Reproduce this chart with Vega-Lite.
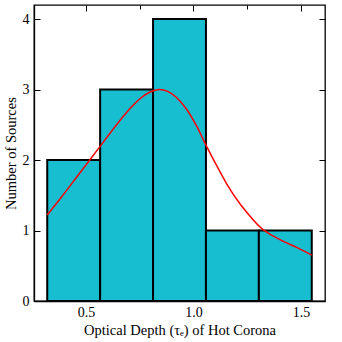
{
  "$schema": "https://vega.github.io/schema/vega-lite/v6.json",
  "width": 291,
  "height": 296,
  "autosize": "none",
  "padding": {"left": 34, "top": 5, "right": 17, "bottom": 41},
  "background": "white",
  "config": {
    "view": {"stroke": "black", "strokeWidth": 1.3},
    "font": "Liberation Serif",
    "axis": {
      "grid": false,
      "domainColor": "black",
      "domainWidth": 1.3,
      "tickColor": "black",
      "tickWidth": 1,
      "labelFont": "Liberation Serif",
      "titleFont": "Liberation Serif",
      "labelFontSize": 14,
      "titleFontSize": 14.5,
      "titleFontWeight": "normal",
      "labelColor": "black",
      "titleColor": "black"
    }
  },
  "datasets": {
    "bins": [
      {"x0": 0.32, "x1": 0.566, "count": 2},
      {"x0": 0.566, "x1": 0.812, "count": 3},
      {"x0": 0.812, "x1": 1.058, "count": 4},
      {"x0": 1.058, "x1": 1.304, "count": 1},
      {"x0": 1.304, "x1": 1.55, "count": 1}
    ],
    "kde": [
      {"x": 0.32, "y": 1.22},
      {"x": 0.38, "y": 1.45},
      {"x": 0.44, "y": 1.69},
      {"x": 0.5, "y": 1.93},
      {"x": 0.565, "y": 2.19},
      {"x": 0.612, "y": 2.38},
      {"x": 0.658, "y": 2.56},
      {"x": 0.705, "y": 2.73},
      {"x": 0.751, "y": 2.87},
      {"x": 0.798, "y": 2.965},
      {"x": 0.84, "y": 3.0},
      {"x": 0.88, "y": 2.975},
      {"x": 0.92, "y": 2.89},
      {"x": 0.968, "y": 2.72},
      {"x": 1.015, "y": 2.48},
      {"x": 1.057, "y": 2.22},
      {"x": 1.108, "y": 1.92},
      {"x": 1.155, "y": 1.66},
      {"x": 1.216, "y": 1.38},
      {"x": 1.278, "y": 1.15},
      {"x": 1.325, "y": 1.01},
      {"x": 1.402, "y": 0.87},
      {"x": 1.48, "y": 0.76},
      {"x": 1.55, "y": 0.65}
    ]
  },
  "layer": [
    {
      "data": {"name": "bins"},
      "mark": {"type": "bar", "fill": "#17becf", "stroke": "black", "strokeWidth": 2},
      "encoding": {
        "x": {
          "field": "x0", "type": "quantitative",
          "scale": {"domain": [0.2585, 1.6115], "nice": false, "zero": false},
          "axis": {
            "orient": "bottom",
            "title": "Optical Depth (τₑ) of Hot Corona",
            "values": [0.5, 0.75, 1.0, 1.25, 1.5],
            "labelExpr": "datum.value == 0.75 || datum.value == 1.25 ? '' : format(datum.value, '.1f')",
            "tickSize": {"condition": {"test": "datum.value == 0.75 || datum.value == 1.25", "value": -4}, "value": -6},
            "labelPadding": 10,
            "titlePadding": 4
          }
        },
        "x2": {"field": "x1"},
        "y": {
          "field": "count", "type": "quantitative",
          "scale": {"domain": [0, 4.2], "nice": false, "padding": 0},
          "axis": {
            "orient": "left",
            "title": "Number of Sources",
            "values": [0, 1, 2, 3, 4],
            "tickSize": -6,
            "labelPadding": 11,
            "titlePadding": 4
          }
        },
        "y2": {"datum": 0}
      }
    },
    {
      "data": {"name": "kde"},
      "mark": {"type": "line", "color": "red", "strokeWidth": 1.5, "interpolate": "natural"},
      "encoding": {
        "x": {
          "field": "x", "type": "quantitative",
          "scale": {"domain": [0.2585, 1.6115], "nice": false, "zero": false},
          "axis": {
            "orient": "top",
            "title": null,
            "labels": false,
            "domain": false,
            "values": [0.5, 0.75, 1.0, 1.25, 1.5],
            "tickSize": {"condition": {"test": "datum.value == 0.75 || datum.value == 1.25", "value": -4}, "value": -6}
          }
        },
        "y": {
          "field": "y", "type": "quantitative",
          "scale": {"domain": [0, 4.2], "nice": false},
          "axis": {
            "orient": "right",
            "title": null,
            "labels": false,
            "domain": false,
            "values": [0, 1, 2, 3, 4],
            "tickSize": -6
          }
        }
      }
    }
  ],
  "resolve": {"axis": {"x": "independent", "y": "independent"}}
}
